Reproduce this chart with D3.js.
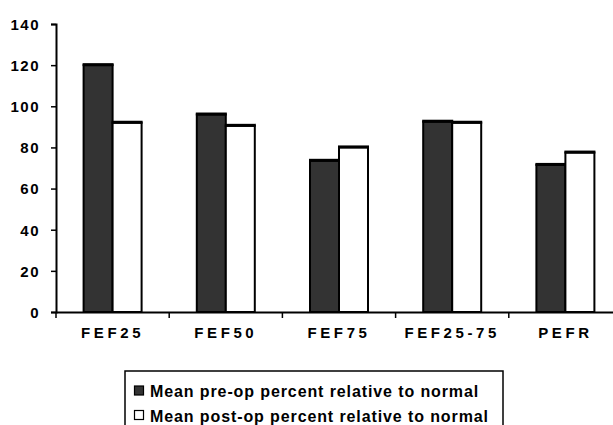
<!DOCTYPE html>
<html>
<head>
<meta charset="utf-8">
<script src="https://cdn.jsdelivr.net/npm/d3@7"></script>
<style>
  html, body { margin: 0; padding: 0; background: #fff; }
  svg { display: block; font-family: "Liberation Sans", Arial, sans-serif; }
</style>
</head>
<body>
<svg id="chart" width="613" height="425"></svg>
<script>
// Spirometry measures, percent of predicted normal
const categories = ["FEF25", "FEF50", "FEF75", "FEF25-75", "PEFR"];
const preOp  = [120, 96, 73.5, 92.5, 71.5];
const postOp = [92, 90.5, 80, 92, 77.5];
const seriesNames = [
  "Mean pre-op percent relative to normal",
  "Mean post-op percent relative to normal"
];
const yTicks = [0, 20, 40, 60, 80, 100, 120, 140];

const svg = d3.select("#chart");
const plotLeft = 56, plotBottom = 312, plotTop = 24;
const groupW = 113.2;
const FONT = "'Liberation Sans', Arial, sans-serif";

const x = d3.scaleBand()
  .domain(categories)
  .range([plotLeft, plotLeft + groupW * categories.length])
  .padding(0);

const y = d3.scaleLinear().domain([0, 140]).range([plotBottom, plotTop]);

const sub = d3.scaleBand().domain([0, 1]).range([-29, 29]).padding(0);

const fills = ["#333333", "#ffffff"];
const seriesVals = [preOp, postOp];

// bars
seriesVals.forEach((vals, si) => {
  const rows = categories.map((c, i) => ({ c, v: vals[i] }));
  svg.append("g").selectAll("rect")
    .data(rows)
    .join("rect")
    .attr("x", d => x(d.c) + x.bandwidth() / 2 + sub(si))
    .attr("y", d => y(d.v))
    .attr("width", sub.bandwidth())
    .attr("height", d => plotBottom - y(d.v))
    .attr("fill", fills[si])
    .attr("stroke", "#000")
    .attr("stroke-width", 2);
  // heavier top edge
  svg.append("g").selectAll("line")
    .data(rows)
    .join("line")
    .attr("x1", d => x(d.c) + x.bandwidth() / 2 + sub(si) - 1)
    .attr("x2", d => x(d.c) + x.bandwidth() / 2 + sub(si) + sub.bandwidth() + 1)
    .attr("y1", d => y(d.v) - 0.5)
    .attr("y2", d => y(d.v) - 0.5)
    .attr("stroke", "#000")
    .attr("stroke-width", 3);
});

// y axis
const yAxis = svg.append("g")
  .attr("transform", `translate(${plotLeft},0)`)
  .call(d3.axisLeft(y).tickValues(yTicks).tickSize(5).tickPadding(11));
yAxis.select(".domain").attr("stroke", "#000").attr("stroke-width", 2);
yAxis.selectAll(".tick line").attr("stroke", "#000").attr("stroke-width", 1.5);
yAxis.selectAll(".tick text")
  .attr("fill", "#000")
  .attr("dy", "0.36em")
  .style("font-size", "15px")
  .style("font-weight", "bold")
  .style("letter-spacing", "1.5px")
  .style("font-family", FONT);

// x axis
const xAxis = svg.append("g")
  .attr("transform", `translate(0,${plotBottom})`)
  .call(d3.axisBottom(x).tickSize(0).tickPadding(0));
xAxis.select(".domain").attr("stroke", "#000").attr("stroke-width", 2);
xAxis.selectAll(".tick text")
  .attr("fill", "#000")
  .attr("y", 26)
  .attr("dy", 0)
  .style("font-size", "15px")
  .style("font-weight", "bold")
  .style("letter-spacing", "3.6px")
  .style("font-family", FONT);

// category boundary ticks
svg.append("g").selectAll("line")
  .data(categories)
  .join("line")
  .attr("x1", d => x(d))
  .attr("x2", d => x(d))
  .attr("y1", plotBottom)
  .attr("y2", plotBottom + 6)
  .attr("stroke", "#000")
  .attr("stroke-width", 1.5);

// legend
const lg = svg.append("g");
lg.append("rect")
  .attr("x", 125).attr("y", 371)
  .attr("width", 378).attr("height", 70)
  .attr("fill", "#fff").attr("stroke", "#000").attr("stroke-width", 1.5);
const legendTexts = seriesNames.map((name, i) => {
  const base = 397 + i * 24.5;
  lg.append("rect")
    .attr("x", 134.5).attr("y", base - 11)
    .attr("width", 9).attr("height", 9)
    .attr("fill", fills[i]).attr("stroke", "#000").attr("stroke-width", 1.2);
  return lg.append("text")
    .attr("x", 150).attr("y", base)
    .style("font-size", "16px")
    .style("font-weight", "bold")
    .style("font-family", FONT)
    .text(name);
});
// spread legend lettering so the longer entry spans to just inside the frame
const longest = legendTexts[1];
const natural = longest.node().getComputedTextLength();
const chars = seriesNames[1].length;
const spacing = Math.max(0, (338 - natural) / (chars - 1));
legendTexts.forEach(t => t.style("letter-spacing", spacing + "px"));
</script>
</body>
</html>
